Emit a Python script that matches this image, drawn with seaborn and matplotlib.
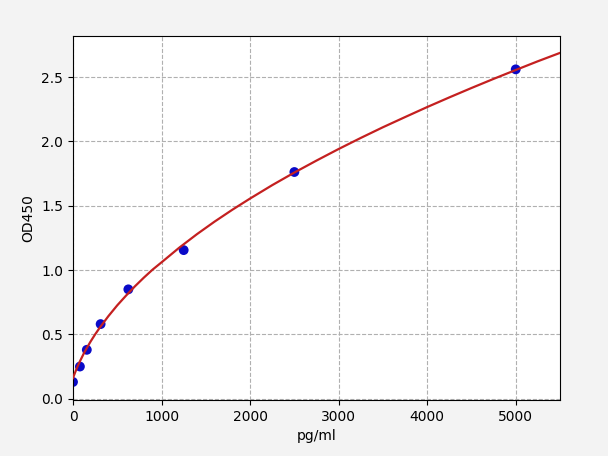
import pandas as pd
import matplotlib
matplotlib.use('Agg')
import matplotlib.pyplot as plt
import seaborn as sns

# standard points
conc = [0, 78, 156, 312, 625, 1250, 2500, 5000]
od = [0.13, 0.25, 0.38, 0.58, 0.85, 1.155, 1.762, 2.56]

# fitted curve
curve_x = [0, 10, 25, 50, 80, 120, 160, 200, 250, 300, 400, 500, 600, 700,
           800, 900, 1000, 1200, 1400, 1600, 1800, 2000, 2250, 2500, 2750,
           3000, 3250, 3500, 3750, 4000, 4250, 4500, 4750, 5000, 5250, 5500]
curve_y = [0.16, 0.179, 0.206, 0.248, 0.293, 0.349, 0.399, 0.446, 0.500,
           0.550, 0.642, 0.726, 0.802, 0.874, 0.941, 1.004, 1.060, 1.174,
           1.279, 1.377, 1.469, 1.556, 1.660, 1.758, 1.851, 1.941, 2.027,
           2.110, 2.189, 2.267, 2.342, 2.415, 2.486, 2.555, 2.623, 2.688]

pts = pd.DataFrame({'pg/ml': conc, 'OD450': od})
fit = pd.DataFrame({'pg/ml': curve_x, 'OD450': curve_y})

fig = plt.figure(figsize=(6.08, 4.561), dpi=100, facecolor='#f3f3f3')
ax = fig.add_axes([73/608, 56/456, 487/608, 364/456])
ax.set_facecolor('white')

sns.scatterplot(data=pts, x='pg/ml', y='OD450', ax=ax, color='#0a0ac8',
                s=50, edgecolor='none', zorder=2)
sns.lineplot(data=fit, x='pg/ml', y='OD450', ax=ax, color='#c42020',
             linewidth=1.6, zorder=3, sort=False)

ax.set_xlim(0, 5500)
ax.set_ylim(-0.01, 2.82)
ax.set_xticks([0, 1000, 2000, 3000, 4000, 5000])
ax.set_yticks([0.0, 0.5, 1.0, 1.5, 2.0, 2.5])
ax.grid(True, linestyle='--', color='#b0b0b0', linewidth=0.8)
ax.set_axisbelow(True)
ax.set_xlabel('pg/ml', fontsize=10)
ax.set_ylabel('OD450', fontsize=10)
ax.tick_params(labelsize=10)

fig.savefig('out.png', dpi=100, facecolor=fig.get_facecolor())
